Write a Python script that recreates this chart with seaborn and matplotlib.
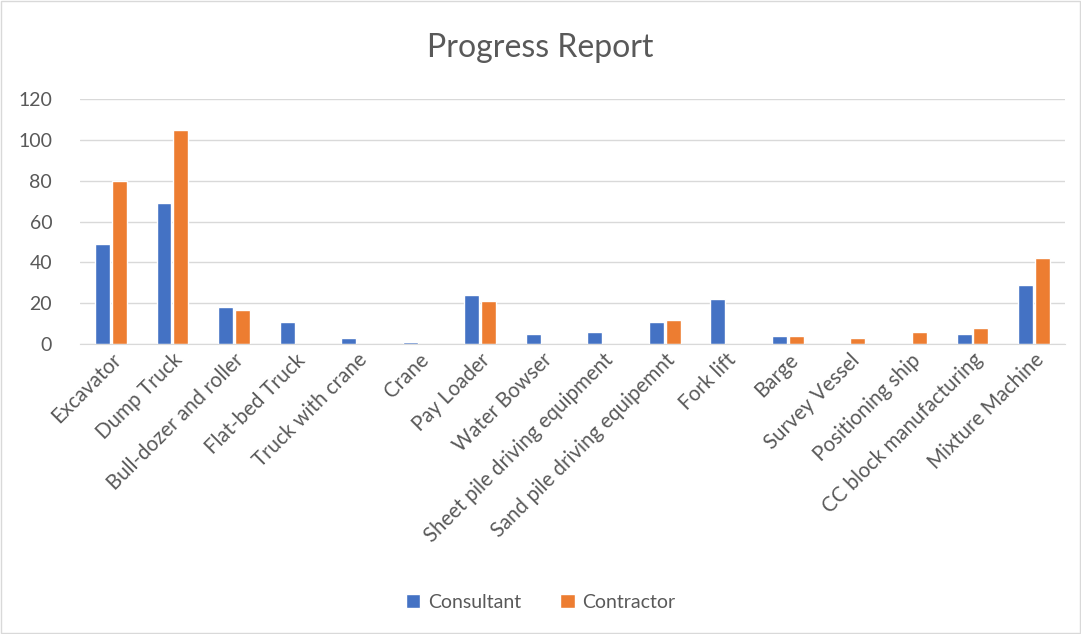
import matplotlib.pyplot as plt
import pandas as pd
import seaborn as sns

categories = ['Excavator', 'Dump Truck', 'Bull-dozer and roller', 'Flat-bed Truck',
              'Truck with crane', 'Crane', 'Pay Loader', 'Water Bowser',
              'Sheet pile driving equipment', 'Sand pile driving equipemnt', 'Fork lift',
              'Barge', 'Survey Vessel', 'Positioning ship', 'CC block manufacturing',
              'Mixture Machine']
consultant = [49, 69, 18, 11, 3, 1, 24, 5, 6, 11, 22, 4, 0, 0, 5, 29]
contractor = [80, 105, 17, 0, 0, 0, 21, 0, 0, 12, 0, 4, 3, 6, 8, 42]
series = ['Consultant', 'Contractor']
colors = ['#4472C4', '#ED7D31']

df = pd.DataFrame({'item': categories * 2,
                   'value': consultant + contractor,
                   'series': [series[0]] * len(categories) + [series[1]] * len(categories)})

sns.set_style('white')
plt.rcParams['font.family'] = ['Lato', 'DejaVu Sans']

fig = plt.figure(figsize=(10.81, 6.34), dpi=100)
ax = fig.add_axes([0.074, 0.457, 0.911, 0.387])
sns.barplot(data=df, x='item', y='value', hue='series', palette=colors,
            saturation=1, width=0.54, gap=0.1, ax=ax)

ax.set_ylim(0, 120)
ax.set_yticks(range(0, 121, 20))
ax.yaxis.grid(True, color='#D9D9D9', linewidth=1)
ax.set_axisbelow(True)
for s in ['top', 'right', 'left']:
    ax.spines[s].set_visible(False)
ax.spines['bottom'].set_color('#D9D9D9')
ax.tick_params(axis='both', length=0, labelsize=14, colors='#595959')
ax.tick_params(axis='y', pad=20)
ax.tick_params(axis='x', pad=4, labelsize=14.8)
plt.setp(ax.get_xticklabels(), rotation=45, ha='right', rotation_mode='anchor')
ax.set_xlabel('')
ax.set_ylabel('')
ax.set_xlim(-0.5, len(categories) - 0.5)

fig.text(0.5, 0.925, 'Progress Report', ha='center', va='center',
         fontsize=23, color='#595959')

handles, labels = ax.get_legend_handles_labels()
ax.legend_.remove()
fig.legend(handles, labels, loc='center', bbox_to_anchor=(0.5, 0.05), ncol=2,
           frameon=False, fontsize=14, handlelength=0.75, handleheight=0.75,
           columnspacing=2, handletextpad=0.4, labelcolor='#595959')

fig.patches.append(plt.Rectangle((0.001, 0.001), 0.998, 0.998, transform=fig.transFigure,
                                 fill=False, edgecolor='#D9D9D9', linewidth=1))
fig.savefig('out.png', dpi=100)
